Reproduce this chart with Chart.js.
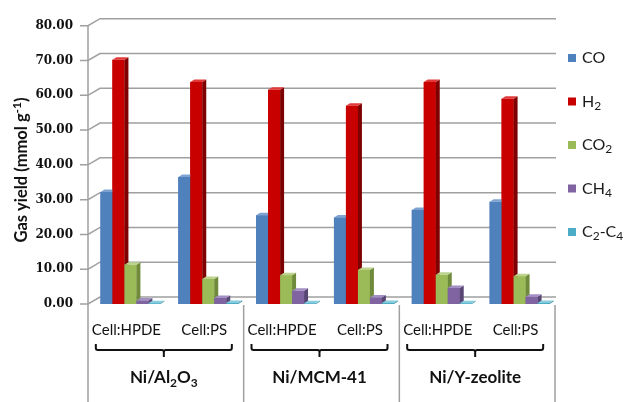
<!DOCTYPE html>
<html>
<head>
<meta charset="utf-8">
<script src="https://cdn.jsdelivr.net/npm/chart.js@4.4.1/dist/chart.umd.min.js"></script>
<style>
  html, body { margin: 0; padding: 0; background: #fff; }
  #wrap { width: 625px; height: 402px; position: relative; }
</style>
</head>
<body>
<div id="wrap"><canvas id="c" width="625" height="402"></canvas></div>
<script>
// Gas yields per feedstock / catalyst pair (mmol g-1)
const categories = ['Cell:HPDE', 'Cell:PS', 'Cell:HPDE', 'Cell:PS', 'Cell:HPDE', 'Cell:PS'];
const catalysts = ['Ni/Al_{2}O_{3}', 'Ni/MCM-41', 'Ni/Y-zeolite'];
const seriesNames = ['CO', 'H_{2}', 'CO_{2}', 'CH_{4}', 'C_{2}-C_{4}'];

const coYield   = [32.2, 36.5, 25.5, 24.9, 27.0, 29.4];
const h2Yield   = [70.2, 63.8, 61.6, 57.0, 63.8, 59.0];
const co2Yield  = [11.3, 7.2, 8.3, 9.8, 8.4, 8.0];
const ch4Yield  = [1.0, 1.7, 3.8, 1.9, 4.6, 2.1];
const c2c4Yield = [0.2, 0.3, 0.2, 0.3, 0.2, 0.3];

const yTicks = [0, 10, 20, 30, 40, 50, 60, 70, 80];
const yTitle = 'Gas yield (mmol g^{-1})';

// Bar face colours: front, right side, top
const frontColors = ['#4F81BD', '#C80000', '#9BBB59', '#8064A2', '#4BACC6'];
const sideColors  = ['#35598A', '#7E0000', '#6E8A3A', '#594675', '#2E8099'];
const topColors   = ['#7FA3D1', '#E23A3A', '#BBD38C', '#A38FC4', '#86CCDD'];

const FONT = 'Lato, "Open Sans", sans-serif';
const DX = 12, DY = 7;        // back-wall offset of the 3-D frame
const BDX = 4, BDY = 2.5;     // depth of each column
const SHIFT = 3.5;            // columns sit slightly behind the front plane

// Text with _{sub} and ^{sup} runs
function parseRich(s) {
  const out = [];
  const re = /([_^])\{([^}]*)\}/g;
  let last = 0, m;
  while ((m = re.exec(s)) !== null) {
    if (m.index > last) out.push([s.slice(last, m.index), 'n']);
    out.push([m[2], m[1] === '_' ? 'sub' : 'sup']);
    last = re.lastIndex;
  }
  if (last < s.length) out.push([s.slice(last), 'n']);
  return out;
}
function plain(s) { return s.replace(/[_^]\{([^}]*)\}/g, '$1'); }

function drawRich(ctx, s, x, y, size, weight, align, color) {
  const segs = parseRich(s);
  const small = Math.round(size * 0.72);
  const fontFor = mode => `${weight} ${mode === 'n' ? size : small}px ${FONT}`;
  let total = 0;
  const widths = segs.map(([t, mode]) => { ctx.font = fontFor(mode); const w = ctx.measureText(t).width; total += w; return w; });
  let cx = align === 'center' ? x - total / 2 : (align === 'right' ? x - total : x);
  ctx.fillStyle = color;
  ctx.textBaseline = 'middle';
  ctx.textAlign = 'left';
  segs.forEach(([t, mode], i) => {
    ctx.font = fontFor(mode);
    const off = mode === 'sub' ? size * 0.28 : (mode === 'sup' ? -size * 0.32 : 0);
    ctx.fillText(t, cx, y + off);
    cx += widths[i];
  });
}

const frame3d = {
  id: 'frame3d',
  beforeDatasetsDraw(chart) {
    const { ctx, chartArea: ca, scales: { y } } = chart;
    const ax = ca.left - SHIFT;
    const rx = ca.right - SHIFT + 1;
    ctx.save();
    ctx.strokeStyle = '#A0A0A0';
    ctx.lineWidth = 1.5;
    yTicks.forEach(v => {
      const py = y.getPixelForValue(v);
      ctx.beginPath();
      ctx.moveTo(ax - 8, py);
      ctx.lineTo(ax, py);
      ctx.lineTo(ax + DX, py - DY);
      ctx.lineTo(rx, py - DY);
      ctx.stroke();
    });
    // value axis and category dividers
    const cw = (ca.right - ca.left) / categories.length;
    ctx.beginPath();
    ctx.moveTo(ax, y.getPixelForValue(yTicks[yTicks.length - 1]));
    ctx.lineTo(ax, chart.height);
    for (let g = 1; g <= catalysts.length; g++) {
      const bx = ax + g * 2 * cw;
      ctx.moveTo(bx, ca.bottom + 1);
      ctx.lineTo(bx, chart.height);
    }
    ctx.stroke();
    ctx.restore();
  },
  // Columns are repainted left to right, so each front face covers the
  // side face of the column before it.
  afterDatasetsDraw(chart) {
    const { ctx } = chart;
    const metas = chart.data.datasets.map((d, i) => chart.getDatasetMeta(i));
    ctx.save();
    categories.forEach((c, k) => {
      metas.forEach((meta, i) => {
        const el = meta.data[k];
        const { x, y, base, width } = el.getProps(['x', 'y', 'base', 'width'], true);
        const l = x - width / 2, r = x + width / 2;
        ctx.fillStyle = frontColors[i];
        ctx.fillRect(l, y, width, base - y);
        ctx.fillStyle = sideColors[i];
        ctx.beginPath();
        ctx.moveTo(r, y); ctx.lineTo(r + BDX, y - BDY); ctx.lineTo(r + BDX, base - BDY); ctx.lineTo(r, base);
        ctx.closePath(); ctx.fill();
        ctx.fillStyle = topColors[i];
        ctx.beginPath();
        ctx.moveTo(l, y); ctx.lineTo(l + BDX, y - BDY); ctx.lineTo(r + BDX, y - BDY); ctx.lineTo(r, y);
        ctx.closePath(); ctx.fill();
      });
    });
    ctx.restore();
  },
  afterDraw(chart) {
    const { ctx, chartArea: ca, scales: { x } } = chart;
    ctx.save();
    // feedstock labels
    categories.forEach((c, i) => {
      drawRich(ctx, c, x.getPixelForValue(i) - SHIFT - 0.5, 330, 15, 'normal', 'center', '#111');
    });
    // braces and catalyst labels
    const cw = (ca.right - ca.left) / categories.length;
    ctx.strokeStyle = '#111';
    ctx.lineWidth = 2;
    ctx.lineJoin = 'round';
    catalysts.forEach((name, g) => {
      const gc = ca.left - SHIFT + (2 * g + 1) * cw - 2;
      const hw = 68;
      ctx.beginPath();
      ctx.moveTo(gc - hw, 344);
      ctx.lineTo(gc - hw, 348);
      ctx.quadraticCurveTo(gc - hw, 350, gc - hw + 2, 350);
      ctx.lineTo(gc - 2, 350);
      ctx.quadraticCurveTo(gc, 350, gc, 352);
      ctx.lineTo(gc, 357);
      ctx.moveTo(gc, 352);
      ctx.quadraticCurveTo(gc, 350, gc + 2, 350);
      ctx.lineTo(gc + hw - 2, 350);
      ctx.quadraticCurveTo(gc + hw, 350, gc + hw, 348);
      ctx.lineTo(gc + hw, 344);
      ctx.stroke();
      drawRich(ctx, name, gc, 378, 17, 'bold', 'center', '#111');
    });
    // legend
    seriesNames.forEach((n, i) => {
      const ly = 58 + i * 43.5;
      ctx.fillStyle = frontColors[i];
      ctx.fillRect(568, ly - 4, 8, 8);
      drawRich(ctx, n, 582, ly, 16, 'normal', 'left', '#1a1a1a');
    });
    // value axis title
    ctx.translate(22, 170);
    ctx.rotate(-Math.PI / 2);
    drawRich(ctx, yTitle, 0, 0, 16.5, 'bold', 'center', '#111');
    ctx.restore();
  }
};

const datasets = [coYield, h2Yield, co2Yield, ch4Yield, c2c4Yield].map((d, i) => ({
  label: plain(seriesNames[i]),
  data: d,
  backgroundColor: frontColors[i],
  borderWidth: 0
}));

new Chart(document.getElementById('c'), {
  type: 'bar',
  data: { labels: categories, datasets },
  options: {
    responsive: false,
    animation: false,
    devicePixelRatio: 1,
    layout: { padding: { top: 24, right: 66.5, left: 0, bottom: 0 } },
    datasets: { bar: { categoryPercentage: 0.77, barPercentage: 1.0 } },
    plugins: { legend: { display: false }, tooltip: { enabled: false } },
    scales: {
      x: {
        ticks: { display: false },
        grid: { display: false },
        border: { display: false },
        afterFit(s) { s.height = 98; }
      },
      y: {
        min: 0, max: 80,
        ticks: {
          stepSize: 10,
          padding: 18.5,
          color: '#111',
          font: { family: '"DejaVu Serif", serif', size: 12, weight: 'bold' },
          callback: v => Number(v).toFixed(2)
        },
        grid: { display: false, drawTicks: false, tickLength: 0 },
        border: { display: false },
        afterFit(s) { s.width = 91.5; }
      }
    }
  },
  plugins: [frame3d]
});
</script>
</body>
</html>
